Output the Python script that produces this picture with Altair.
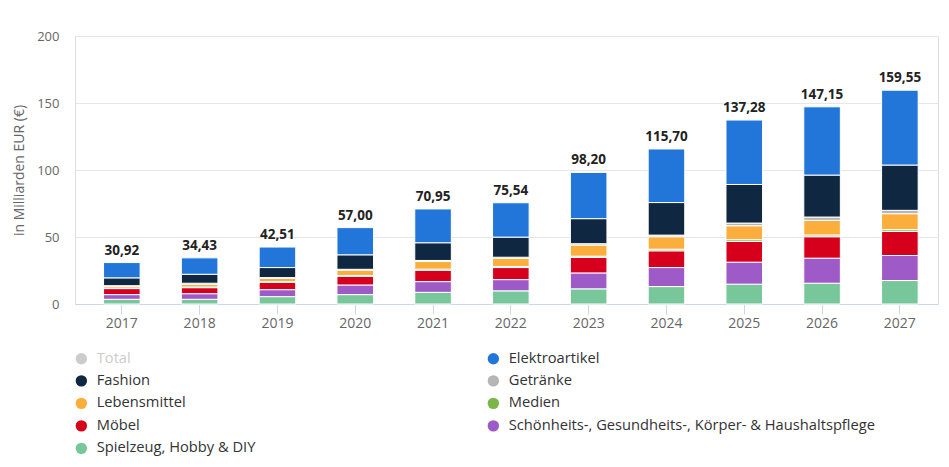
import altair as alt
import pandas as pd

years = ["2017", "2018", "2019", "2020", "2021", "2022", "2023", "2024", "2025", "2026", "2027"]
totals = [30.92, 34.43, 42.51, 57.00, 70.95, 75.54, 98.20, 115.70, 137.28, 147.15, 159.55]

elektro = [11.42, 12.23, 15.31, 20.30, 25.25, 25.64, 34.50, 40.00, 48.08, 50.95, 55.85]
fashion = [5.8, 6.7, 7.5, 10.8, 13.2, 15.0, 18.7, 24.3, 28.8, 31.3, 33.8]
getraenke = [0.4, 0.8, 0.6, 0.6, 0.8, 0.8, 1.0, 1.2, 2.0, 2.5, 2.5]
lebensmittel = [1.4, 2.0, 2.4, 4.0, 5.7, 6.1, 8.3, 9.3, 10.4, 10.9, 11.9]
medien = [0.4, 0.5, 0.5, 0.6, 0.8, 0.8, 1.0, 1.2, 1.3, 1.3, 1.3]
moebel = [4.5, 4.5, 5.5, 6.5, 8.5, 9.0, 11.5, 12.5, 15.5, 16.0, 18.0]
schoenheit = [3.5, 4.2, 5.2, 7.2, 8.0, 8.4, 11.9, 14.2, 16.4, 18.7, 18.7]
spielzeug = [3.5, 3.5, 5.5, 7.0, 8.7, 9.8, 11.3, 13.0, 14.8, 15.5, 17.5]

legend_names = [
    "Total",
    "Elektroartikel",
    "Fashion",
    "Getränke",
    "Lebensmittel",
    "Medien",
    "Möbel",
    "Schönheits-, Gesundheits-, Körper- & Haushaltspflege",
    "Spielzeug, Hobby & DIY",
]
legend_colors = [
    "#cccccc",
    "#2376d9",
    "#0f2740",
    "#b5b5b5",
    "#fbae3c",
    "#7ab648",
    "#d6001c",
    "#9e5ac7",
    "#78c79b",
]

# bottom-to-top stacking order
stack_series = [
    ("Spielzeug, Hobby & DIY", spielzeug),
    ("Schönheits-, Gesundheits-, Körper- & Haushaltspflege", schoenheit),
    ("Möbel", moebel),
    ("Medien", medien),
    ("Lebensmittel", lebensmittel),
    ("Getränke", getraenke),
    ("Fashion", fashion),
    ("Elektroartikel", elektro),
]

rows = []
for idx, (name, vals) in enumerate(stack_series):
    for y, v in zip(years, vals):
        rows.append({"year": y, "series": name, "value": v, "idx": idx})
df = pd.DataFrame(rows)

tot_df = pd.DataFrame({
    "year": years,
    "total": totals,
    "label": [f"{t:.2f}".replace(".", ",") for t in totals],
})

FONT = "Open Sans"

xscale = alt.Scale(paddingInner=0.53, paddingOuter=0.311, align=0.59)

bars = alt.Chart(df).mark_bar(stroke="white", strokeWidth=1).encode(
    x=alt.X(
        "year:N",
        scale=xscale,
        axis=alt.Axis(
            title=None,
            labelAngle=0,
            labelColor="#666666",
            labelFontSize=14,
            labelFont=FONT,
            domainColor="#ccd6eb",
            tickColor="#ccd6eb",
            tickSize=10,
            labelPadding=2,
            grid=False,
        ),
    ),
    y=alt.Y(
        "value:Q",
        stack="zero",
        scale=alt.Scale(domain=[0, 200], nice=False),
        axis=alt.Axis(
            title="in Milliarden EUR (€)",
            titleFont=FONT,
            titleFontSize=14,
            titleFontWeight="normal",
            titleColor="#666666",
            titlePadding=10,
            labelColor="#666666",
            labelFontSize=13,
            labelFont=FONT,
            labelPadding=16,
            domain=False,
            ticks=False,
            gridColor="#e6e6e6",
            values=[0, 50, 100, 150, 200],
        ),
    ),
    color=alt.Color(
        "series:N",
        scale=alt.Scale(domain=legend_names, range=legend_colors),
        legend=alt.Legend(
            title=None,
            orient="none",
            direction="horizontal",
            legendX=-1,
            legendY=315,
            columns=2,
            columnPadding=230,
            rowPadding=6.5,
            symbolType="circle",
            symbolSize=130,
            symbolStrokeWidth=0,
            labelFont=FONT,
            labelFontSize=14.7,
            labelColor={"expr": "datum.label === 'Total' ? '#cccccc' : '#333333'"},
            labelOffset=8,
            labelLimit=600,
            padding=0,
        ),
    ),
    order=alt.Order("idx:Q", sort="ascending"),
)

labels = alt.Chart(tot_df).mark_text(
    font=FONT, fontSize=13.5, fontWeight="bold", color="#222222", baseline="bottom", dy=-5
).encode(
    x=alt.X("year:N", scale=xscale),
    y=alt.Y("total:Q"),
    text="label:N",
)

chart = alt.layer(bars, labels).properties(
    width=863,
    height=268,
    autosize=alt.AutoSizeParams(type="none"),
    padding={"left": 67, "top": 28, "right": 3, "bottom": 155},
).configure_view(strokeWidth=0).configure(background="white")

chart.save("out.html", embed_options={"renderer": "svg", "actions": False})
